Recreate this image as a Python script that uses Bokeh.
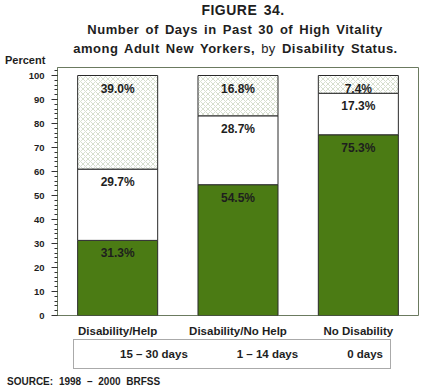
from bokeh.plotting import figure
from bokeh.models import (ColumnDataSource, FactorRange, Range1d, Legend, LegendItem,
                          SingleIntervalTicker, Div)
from bokeh.layouts import column
from bokeh.embed import file_html
from bokeh.resources import INLINE
from bokeh.core.properties import value

# ---- data ----
categories = ["Disability/Help", "Disability/No Help", "No Disability"]
days_15_30 = [31.3, 54.5, 75.3]
days_1_14 = [29.7, 28.7, 17.3]
days_0 = [39.0, 16.8, 7.4]
series_keys = ["d15_30", "d1_14", "d0"]
series_names = ["15 – 30 days", "1 – 14 days", "0 days"]
title_1 = "FIGURE 34."
title_2 = "Number of Days in Past 30 of High Vitality"
title_3a = "among Adult New Yorkers,"
title_3b = "by"
title_3c = "Disability Status."
y_label = "Percent"
source_note = "SOURCE: 1998 – 2000 BRFSS"

FONT = "Liberation Sans"
GREEN = "#4b7b14"
HATCH = "#bac7ad"
FRAME = "#6b7a60"
INK = "#1e1e1e"
fills = [GREEN, "white", "white"]
hatches = ["blank", "blank", "diagonal_cross"]

W = 424
HEAD_H, FOOT_H, NOTE_H = 66, 32, 17
TOP, FRAME_H, BOTTOM = 1, 248, 24
LEFT, RIGHT = 57, 6
PX_PER_UNIT = 2.4


def line(text_html, top, size, cx=None, left=None, extra=""):
    if cx is not None:
        pos = f"left:{cx - 200}px;width:400px;text-align:center;"
    else:
        pos = f"left:{left}px;"
    return (f'<div style="position:absolute;top:{top}px;{pos}white-space:nowrap;'
            f'font-size:{size}px;line-height:1;font-weight:bold;{extra}">{text_html}</div>')


def box(h):
    return (f'<div style="position:relative;width:{W}px;height:{h}px;'
            f"font-family:'{FONT}';color:{INK};\">")


SPREAD = "letter-spacing:0.5px;word-spacing:2px;"
head_html = (
    box(HEAD_H)
    + line(title_1, 3.2, 14, cx=243, extra=SPREAD)
    + line(title_2, 23, 13, cx=235, extra=SPREAD)
    + line(f'{title_3a} <span style="font-weight:normal">{title_3b}</span> {title_3c}',
           42, 13, cx=235.5, extra=SPREAD)
    + line(y_label, 55, 11, left=5)
    + "</div>")
head = Div(text=head_html, width=W, height=HEAD_H, margin=0)

# ---- main chart ----
src = ColumnDataSource(dict(cat=categories, d15_30=days_15_30, d1_14=days_1_14, d0=days_0))

p = figure(width=W, height=TOP + FRAME_H + BOTTOM, x_range=FactorRange(*categories),
           y_range=Range1d(0, FRAME_H / PX_PER_UNIT),
           output_backend="svg", toolbar_location=None,
           min_border_left=LEFT, min_border_right=RIGHT,
           min_border_top=TOP, min_border_bottom=BOTTOM)
p.outline_line_color = FRAME
p.outline_line_width = 1
p.xgrid.grid_line_color = None
p.ygrid.grid_line_color = None

renderers = p.vbar_stack(series_keys, x="cat", width=0.665, source=src,
                         fill_color=fills, hatch_pattern=hatches,
                         hatch_color=HATCH, hatch_scale=5, hatch_weight=0.6,
                         line_color="#2a2a2a", line_width=1)

cum1 = days_15_30
cum2 = [a + b for a, b in zip(days_15_30, days_1_14)]
cum3 = [a + b + c for a, b, c in zip(days_15_30, days_1_14, days_0)]
lab_src = ColumnDataSource(dict(
    x=categories * 3,
    y=cum1 + cum2 + cum3,
    t=[f"{v:.1f}%" for v in days_15_30 + days_1_14 + days_0]))
p.text(x="x", y="y", text="t", source=lab_src, y_offset=6,
       text_align="center", text_baseline="top",
       text_font=value(FONT), text_font_style="bold", text_font_size="12px",
       text_color=INK)

yax = p.yaxis[0]
yax.ticker = SingleIntervalTicker(interval=10, num_minor_ticks=5)
yax.major_tick_out = 6
yax.major_tick_in = 0
yax.minor_tick_out = 3
yax.minor_tick_in = 0
yax.major_tick_line_color = "#333333"
yax.minor_tick_line_color = "#333333"
yax.axis_line_color = FRAME
yax.major_label_standoff = 7
yax.major_label_text_font = FONT
yax.major_label_text_font_style = "bold"
yax.major_label_text_font_size = "9.5px"
yax.major_label_text_color = INK

xax = p.xaxis[0]
xax.major_tick_out = 0
xax.major_tick_in = 0
xax.axis_line_color = None
xax.major_label_standoff = 9
xax.major_label_text_font = FONT
xax.major_label_text_font_style = "bold"
xax.major_label_text_font_size = "11.5px"
xax.major_label_text_color = INK

# ---- foot: legend ----
foot = figure(width=W, height=FOOT_H, x_range=Range1d(0, 1), y_range=Range1d(0, 1),
              output_backend="svg", toolbar_location=None,
              x_axis_location=None, y_axis_location=None,
              min_border_left=LEFT, min_border_right=RIGHT,
              min_border_top=0, min_border_bottom=0, outline_line_color=None)
foot.grid.visible = False
foot_renderers = [foot.vbar(x=[], top=[], width=1, fill_color=fc, hatch_pattern=hp,
                            hatch_color=HATCH, hatch_scale=5, hatch_weight=0.6,
                            line_color="#2a2a2a", line_width=1)
                  for fc, hp in zip(fills, hatches)]
legend = Legend(items=[LegendItem(label=n, renderers=[r]) for n, r in zip(series_names, foot_renderers)],
                location=(16, 2), orientation="horizontal",
                padding=7, spacing=10, label_standoff=6,
                glyph_width=33, glyph_height=10, label_height=14,
                label_text_font=FONT, label_text_font_style="bold",
                label_text_font_size="11.5px", label_text_color=INK,
                border_line_color="#555555", border_line_width=1,
                background_fill_color="white", background_fill_alpha=1,
                margin=0)
foot.add_layout(legend)

# ---- source note ----
note_html = box(NOTE_H) + line(source_note, 5.5, 10, left=7, extra="word-spacing:3px;") + "</div>"
note = Div(text=note_html, width=W, height=NOTE_H, margin=0)

layout = column(head, p, foot, note, spacing=0)
open("out.html", "w").write(file_html(layout, INLINE))
